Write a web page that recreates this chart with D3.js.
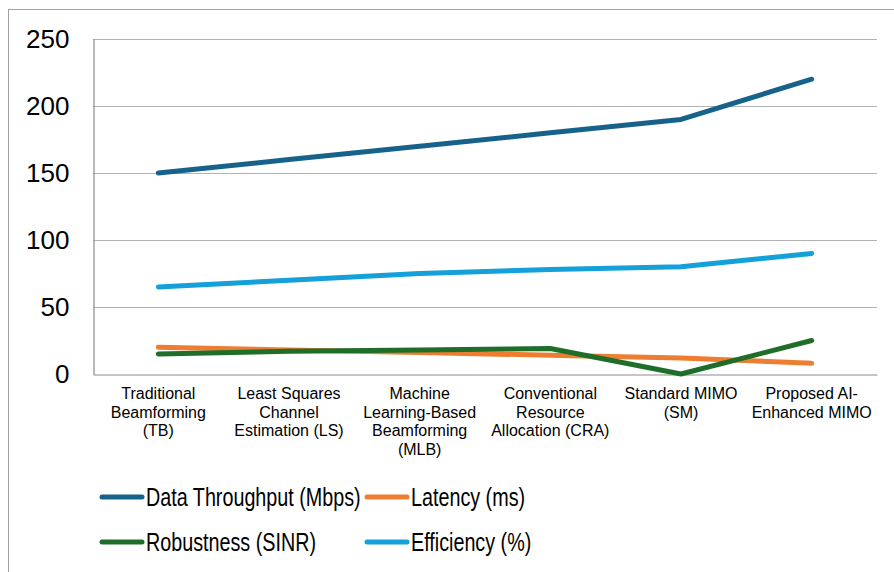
<!DOCTYPE html>
<html>
<head>
<meta charset="utf-8">
<script src="https://cdn.jsdelivr.net/npm/d3@7"></script>
<style>
  body { margin: 0; background: #fff; }
  text { font-family: "Liberation Sans", Arial, sans-serif; fill: #000; }
</style>
</head>
<body>
<div id="chart"></div>
<script>
const width = 894;
const height = 572;

// data
const categories = [
    "Traditional Beamforming (TB)",
    "Least Squares Channel Estimation (LS)",
    "Machine Learning-Based Beamforming (MLB)",
    "Conventional Resource Allocation (CRA)",
    "Standard MIMO (SM)",
    "Proposed AI-Enhanced MIMO"
];
// how each category label is broken into lines
const categoryLines = [
    ["Traditional", "Beamforming", "(TB)"],
    ["Least Squares", "Channel", "Estimation (LS)"],
    ["Machine", "Learning-Based", "Beamforming", "(MLB)"],
    ["Conventional", "Resource", "Allocation (CRA)"],
    ["Standard MIMO", "(SM)"],
    ["Proposed AI-", "Enhanced MIMO"]
];
const seriesNames = ["Data Throughput (Mbps)", "Latency (ms)", "Robustness (SINR)", "Efficiency (%)"];
const throughput = [150, 160, 170, 180, 190, 220];
const latency = [20, 18, 16, 14, 12, 8];
const robustness = [15, 17, 18, 19, 0, 25];
const efficiency = [65, 70, 75, 78, 80, 90];
const yTicks = [0, 50, 100, 150, 200, 250];

const colors = ["#17628a", "#ed7d31", "#1e6e2a", "#14a0d8"];
const seriesValues = [throughput, latency, robustness, efficiency];

const margin = { left: 93, right: 17, top: 39, bottom: 198 };

const svg = d3.select("#chart").append("svg")
    .attr("width", width)
    .attr("height", height);

// outer frame
svg.append("rect")
    .attr("x", 8.5)
    .attr("y", 9.5)
    .attr("width", width)
    .attr("height", height)
    .attr("fill", "none")
    .attr("stroke", "#a0a0a0");

const xScale = d3.scaleBand()
    .domain(categories)
    .range([margin.left, width - margin.right]);

const yScale = d3.scaleLinear()
    .domain([0, 250])
    .range([height - margin.bottom, margin.top]);

// gridlines
svg.append("g")
    .selectAll("line")
    .data(yTicks.filter(d => d > 0))
    .join("line")
    .attr("x1", margin.left)
    .attr("x2", width - margin.right)
    .attr("y1", d => Math.round(yScale(d)) + 0.5)
    .attr("y2", d => Math.round(yScale(d)) + 0.5)
    .attr("stroke", "#b3b3b3")
    .attr("stroke-width", 1.2);

// y axis
const yAxis = svg.append("g")
    .attr("transform", `translate(${margin.left + 0.5},0)`)
    .call(d3.axisLeft(yScale).tickValues(yTicks).tickSize(0).tickPadding(24));
yAxis.select(".domain").attr("stroke", "#8c8c8c").attr("stroke-width", 1.2);
yAxis.selectAll("text")
    .style("font-family", "'Liberation Sans', Arial, sans-serif")
    .style("font-size", "26px")
    .attr("fill", "#000");

// x axis
const xAxis = svg.append("g")
    .attr("transform", `translate(0,${Math.round(yScale(0)) + 0.5})`)
    .call(d3.axisBottom(xScale).tickSize(0).tickFormat(""));
xAxis.select(".domain").attr("stroke", "#8c8c8c").attr("stroke-width", 1.2);

// category labels
const catLabels = svg.append("g");
categories.forEach((c, i) => {
    const cx = xScale(c) + xScale.bandwidth() / 2;
    const t = catLabels.append("text")
        .attr("x", cx)
        .attr("y", yScale(0) + 25)
        .attr("text-anchor", "middle")
        .style("font-size", "16px");
    categoryLines[i].forEach((line, j) => {
        t.append("tspan")
            .attr("x", cx)
            .attr("dy", j === 0 ? 0 : 18.5)
            .text(line);
    });
});

const line = d3.line()
    .x((d, i) => xScale(categories[i]) + xScale.bandwidth() / 2)
    .y(d => yScale(d));

// draw order: throughput, latency, robustness, efficiency
seriesValues.forEach((vals, k) => {
    svg.append("path")
        .datum(vals)
        .attr("fill", "none")
        .attr("stroke", colors[k])
        .attr("stroke-width", 5)
        .attr("stroke-linecap", "round")
        .attr("stroke-linejoin", "round")
        .attr("d", line);
});

// legend (text is horizontally squeezed like in the original)
const legendPos = [
    { x: 102, y: 497 },
    { x: 367, y: 497 },
    { x: 102, y: 542 },
    { x: 367, y: 542 }
];
const legend = svg.append("g");
seriesNames.forEach((name, k) => {
    const p = legendPos[k];
    legend.append("line")
        .attr("x1", p.x)
        .attr("x2", p.x + 40)
        .attr("y1", p.y)
        .attr("y2", p.y)
        .attr("stroke", colors[k])
        .attr("stroke-width", 5)
        .attr("stroke-linecap", "round");
    legend.append("text")
        .attr("transform", `translate(${p.x + 44},${p.y}) scale(0.79,1)`)
        .attr("dy", "0.35em")
        .style("font-size", "25px")
        .text(name);
});
</script>
</body>
</html>
